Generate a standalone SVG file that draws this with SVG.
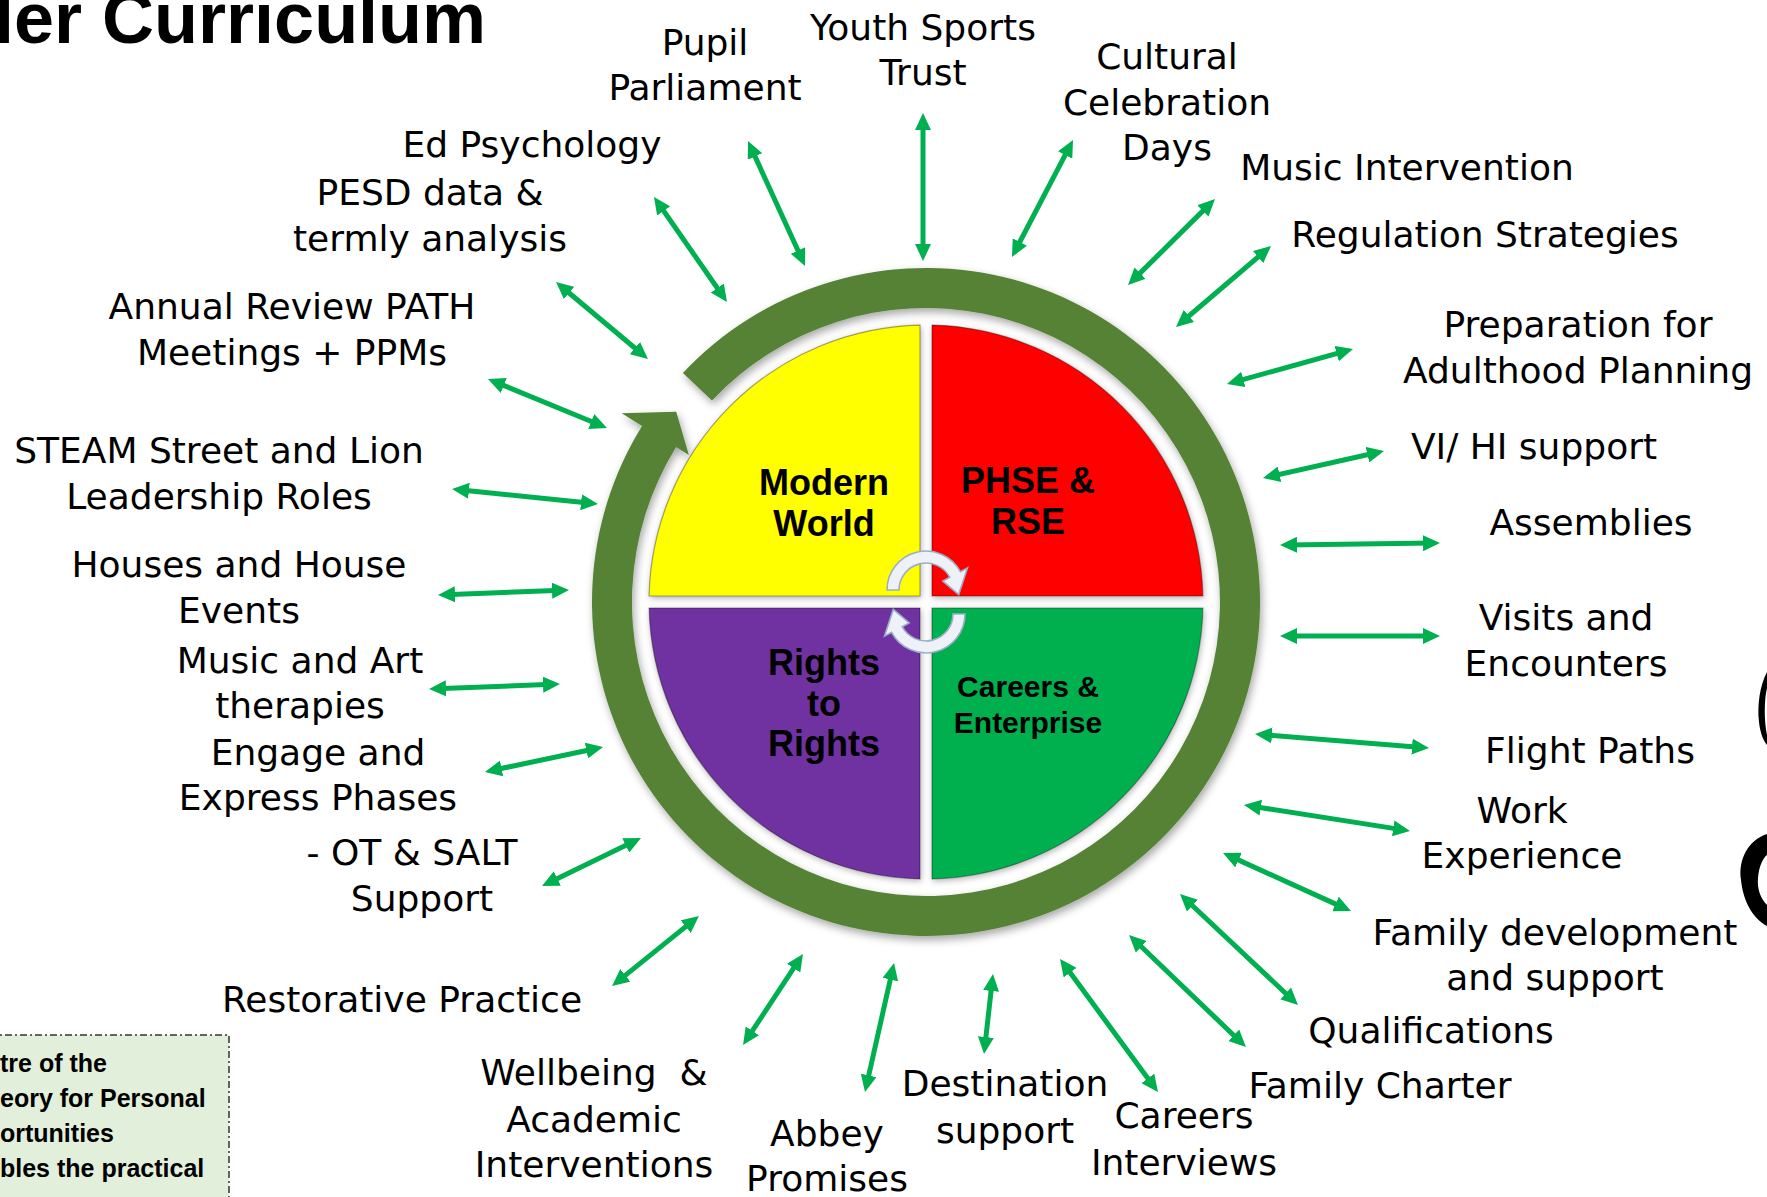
<svg xmlns="http://www.w3.org/2000/svg" width="1767" height="1197" viewBox="0 0 1767 1197">
<defs>
<style>
.lbl{font-family:"DejaVu Sans","Liberation Sans",sans-serif;font-size:36px;text-anchor:middle;fill:#000}
.pie{font-family:"Liberation Sans",Arial,sans-serif;font-weight:bold;font-size:36px;text-anchor:middle;fill:#000}
.pie2{font-size:30px}
.title{font-family:"Liberation Sans",Arial,sans-serif;font-weight:bold;font-size:72px;fill:#000}
.boxt{font-family:"Liberation Sans",Arial,sans-serif;font-weight:bold;font-size:25px;fill:#000}
.arr{stroke:#00B050;stroke-width:5;fill:none;marker-start:url(#ah);marker-end:url(#ah)}
.q{stroke:#000;stroke-opacity:0.35;stroke-width:1.2}
.ca{fill:#EEF2F8;stroke:#9AAEC6;stroke-width:1.6}
</style>
<marker id="ah" viewBox="0 0 17 16" refX="10" refY="8" markerWidth="17" markerHeight="16" markerUnits="userSpaceOnUse" orient="auto-start-reverse">
<path d="M0,0 L17,8 L0,16 Z" fill="#00B050"/>
</marker>
<filter id="sh" x="-10%" y="-10%" width="120%" height="120%">
<feDropShadow dx="2" dy="4" stdDeviation="4" flood-color="#000" flood-opacity="0.35"/>
</filter>
<filter id="sh2" x="-10%" y="-10%" width="120%" height="120%">
<feDropShadow dx="1" dy="2" stdDeviation="3" flood-color="#000" flood-opacity="0.3"/>
</filter>
</defs>
<rect x="0" y="0" width="1767" height="1197" fill="#fff"/>

<g id="title"><text class="title" x="-6" y="43">ler Curriculum</text></g>

<g id="ring" filter="url(#sh)">
<path d="M682.9,372.9 A334,334 0 1 1 642.1,426.0 L621.7,413.3 L676.2,411.7 L688.9,455.0 L676.1,447.1 A294,294 0 1 0 712.0,400.4 Z" fill="#548235"/>
</g>

<g id="pie" filter="url(#sh2)">
<g id="q-modern-world"><path class="q" d="M920,596 L920,325.1 A277,277 0 0 0 649.1,596 Z" fill="#FFFF00"/></g>
<g id="q-phse"><path class="q" d="M932,596 L932,325.1 A277,277 0 0 1 1202.9,596 Z" fill="#FF0000"/></g>
<g id="q-careers"><path class="q" d="M932,608 L1202.9,608 A277,277 0 0 1 932,878.9 Z" fill="#00B050"/></g>
<g id="q-rights"><path class="q" d="M920,608 L920,878.9 A277,277 0 0 1 649.1,608 Z" fill="#7030A0"/></g>
</g>

<g id="center-arrows">
<path class="ca" d="M887,590 A39,39 0 0 1 960.4,571.7 L967.5,567.9 L958.7,594.6 L942.8,581.1 L949.8,577.3 A27,27 0 0 0 899,590 Z"/>
<path class="ca" transform="rotate(180 926 602)" d="M887,590 A39,39 0 0 1 960.4,571.7 L967.5,567.9 L958.7,594.6 L942.8,581.1 L949.8,577.3 A27,27 0 0 0 899,590 Z"/>
</g>

<g id="pie-labels">
<text class="pie" x="824" y="495">Modern</text>
<text class="pie" x="824" y="536">World</text>
<text class="pie" x="1028" y="493">PHSE &amp;</text>
<text class="pie" x="1028" y="534">RSE</text>
<text class="pie" x="824" y="675">Rights</text>
<text class="pie" x="824" y="716">to</text>
<text class="pie" x="824" y="756">Rights</text>
<text class="pie pie2" x="1028" y="697">Careers &amp;</text>
<text class="pie pie2" x="1028" y="733">Enterprise</text>
</g>

<g id="connectors">
<line class="arr" x1="750.9" y1="147.4" x2="802.1" y2="259.6"/>
<line class="arr" x1="923" y1="120" x2="923" y2="254"/>
<line class="arr" x1="1069.8" y1="146.2" x2="1015.2" y2="250.8"/>
<line class="arr" x1="1210" y1="203.9" x2="1133" y2="280.1"/>
<line class="arr" x1="1265.7" y1="250.5" x2="1181.3" y2="322.5"/>
<line class="arr" x1="1346.3" y1="350.9" x2="1233.7" y2="382.1"/>
<line class="arr" x1="1377.2" y1="452.5" x2="1269.8" y2="476.5"/>
<line class="arr" x1="1433" y1="543.1" x2="1287" y2="544.9"/>
<line class="arr" x1="1433" y1="636" x2="1287" y2="636"/>
<line class="arr" x1="1422" y1="747.4" x2="1262" y2="734.6"/>
<line class="arr" x1="1403.1" y1="829.9" x2="1250.9" y2="806.1"/>
<line class="arr" x1="1344.6" y1="908.1" x2="1229.4" y2="855.9"/>
<line class="arr" x1="1292.9" y1="1000.2" x2="1185.1" y2="898.8"/>
<line class="arr" x1="1240.9" y1="1042.2" x2="1134.1" y2="939.8"/>
<line class="arr" x1="1153.8" y1="1086.4" x2="1064.2" y2="964.6"/>
<line class="arr" x1="984.8" y1="1047" x2="992.2" y2="981"/>
<line class="arr" x1="866.5" y1="1085.2" x2="892.5" y2="969.8"/>
<line class="arr" x1="746.9" y1="1039.2" x2="799.1" y2="959.8"/>
<line class="arr" x1="617.5" y1="981.6" x2="693.5" y2="920.4"/>
<line class="arr" x1="548.3" y1="882.9" x2="634.7" y2="841.1"/>
<line class="arr" x1="491.8" y1="770.5" x2="596.2" y2="748.5"/>
<line class="arr" x1="436" y1="688.7" x2="553" y2="684.3"/>
<line class="arr" x1="445" y1="594.7" x2="562" y2="590.3"/>
<line class="arr" x1="459" y1="489.7" x2="591" y2="503.3"/>
<line class="arr" x1="494.5" y1="381.7" x2="600.5" y2="425.3"/>
<line class="arr" x1="561.4" y1="286.5" x2="642.6" y2="354.5"/>
<line class="arr" x1="658" y1="202.7" x2="723" y2="296.3"/>
</g>

<g id="n-pupil"><text class="lbl" x="705" y="55">Pupil</text><text class="lbl" x="705" y="100">Parliament</text></g>
<g id="n-youth"><text class="lbl" x="923" y="40">Youth Sports</text><text class="lbl" x="923" y="85">Trust</text></g>
<g id="n-cultural"><text class="lbl" x="1167" y="69">Cultural</text><text class="lbl" x="1167" y="115">Celebration</text><text class="lbl" x="1167" y="160">Days</text></g>
<g id="n-edpsych"><text class="lbl" x="532" y="157">Ed Psychology</text></g>
<g id="n-pesd"><text class="lbl" x="430" y="205">PESD data &amp;</text><text class="lbl" x="430" y="251">termly analysis</text></g>
<g id="n-music-int"><text class="lbl" x="1407" y="180">Music Intervention</text></g>
<g id="n-regulation"><text class="lbl" x="1485" y="247">Regulation Strategies</text></g>
<g id="n-annual"><text class="lbl" x="292" y="319">Annual Review PATH</text><text class="lbl" x="292" y="365">Meetings + PPMs</text></g>
<g id="n-prep"><text class="lbl" x="1578" y="337">Preparation for</text><text class="lbl" x="1578" y="383">Adulthood Planning</text></g>
<g id="n-steam"><text class="lbl" x="219" y="463">STEAM Street and Lion</text><text class="lbl" x="219" y="509">Leadership Roles</text></g>
<g id="n-vihi"><text class="lbl" x="1534" y="459">VI/ HI support</text></g>
<g id="n-assemblies"><text class="lbl" x="1591" y="535">Assemblies</text></g>
<g id="n-houses"><text class="lbl" x="239" y="577">Houses and House</text><text class="lbl" x="239" y="623">Events</text></g>
<g id="n-visits"><text class="lbl" x="1566" y="630">Visits and</text><text class="lbl" x="1566" y="676">Encounters</text></g>
<g id="n-music-art"><text class="lbl" x="300" y="673">Music and Art</text><text class="lbl" x="300" y="718">therapies</text></g>
<g id="n-engage"><text class="lbl" x="318" y="765">Engage and</text><text class="lbl" x="318" y="810">Express Phases</text></g>
<g id="n-flight"><text class="lbl" x="1590" y="763">Flight Paths</text></g>
<g id="n-work"><text class="lbl" x="1522" y="823">Work</text><text class="lbl" x="1522" y="868">Experience</text></g>
<g id="n-ot"><text class="lbl" x="412" y="865">- OT &amp; SALT</text><text class="lbl" x="422" y="911">Support</text></g>
<g id="n-family-dev"><text class="lbl" x="1555" y="945">Family development</text><text class="lbl" x="1555" y="990">and support</text></g>
<g id="n-restorative"><text class="lbl" x="402" y="1012">Restorative Practice</text></g>
<g id="n-qual"><text class="lbl" x="1431" y="1043">Qualifications</text></g>
<g id="n-wellbeing"><text class="lbl" x="594" y="1085" xml:space="preserve">Wellbeing  &amp;</text><text class="lbl" x="594" y="1132">Academic</text><text class="lbl" x="594" y="1177">Interventions</text></g>
<g id="n-family-charter"><text class="lbl" x="1380" y="1098">Family Charter</text></g>
<g id="n-destination"><text class="lbl" x="1005" y="1096">Destination</text><text class="lbl" x="1005" y="1143">support</text></g>
<g id="n-careers-int"><text class="lbl" x="1184" y="1128">Careers</text><text class="lbl" x="1184" y="1175">Interviews</text></g>
<g id="n-abbey"><text class="lbl" x="827" y="1146">Abbey</text><text class="lbl" x="827" y="1191">Promises</text></g>

<g id="note-box">
<rect x="-10" y="1035" width="239" height="200" fill="#E2EFDA" stroke="#333" stroke-width="1.5" stroke-dasharray="7 3 2 3"/>
<text class="boxt" x="0" y="1072">tre of the</text>
<text class="boxt" x="0" y="1107">eory for Personal</text>
<text class="boxt" x="0" y="1142">ortunities</text>
<text class="boxt" x="0" y="1177">bles the practical</text>
</g>

<g id="edge-shapes" fill="#000">
<path d="M1767,672 C1760,685 1757,705 1759,722 C1760,732 1763,740 1767,745 L1767,735 C1764,722 1764,700 1767,688 Z"/>
<path d="M1767,834 C1748,840 1738,860 1741,880 C1743,900 1752,918 1767,926 L1767,905 C1760,898 1757,888 1758,878 C1759,866 1763,858 1767,855 Z"/>
</g>
</svg>
